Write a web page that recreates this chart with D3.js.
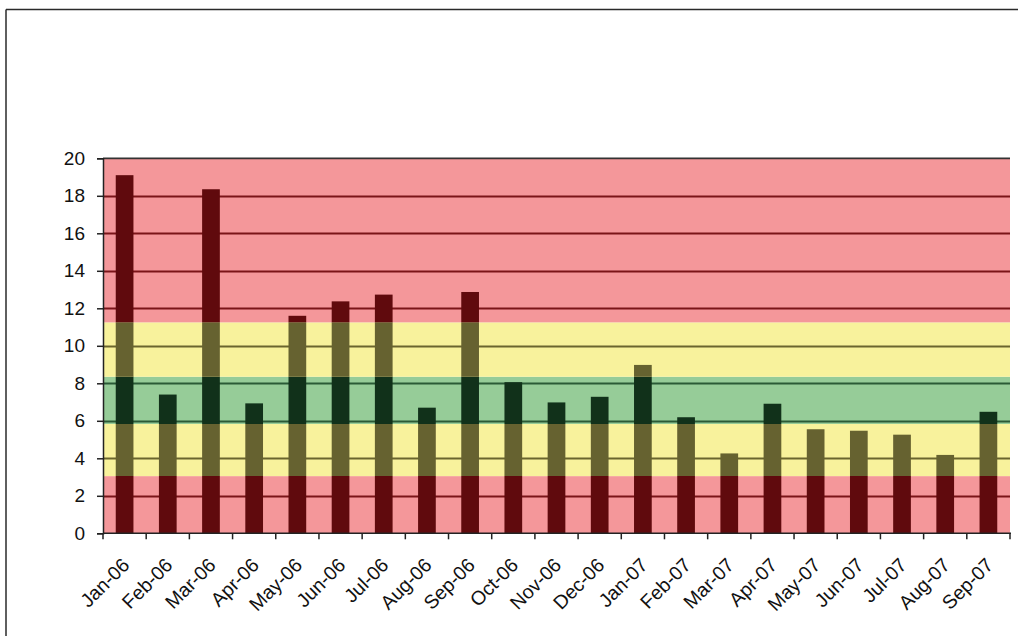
<!DOCTYPE html>
<html>
<head>
<meta charset="utf-8">
<script src="https://cdn.jsdelivr.net/npm/d3@7"></script>
<style>
  html, body { margin: 0; padding: 0; background: #fff; }
  svg { display: block; }
  text { font-family: "Liberation Sans", Arial, sans-serif; }
</style>
</head>
<body>
<svg id="chart" width="1018" height="636"></svg>
<script>
const categories = ["Jan-06","Feb-06","Mar-06","Apr-06","May-06","Jun-06","Jul-06","Aug-06","Sep-06","Oct-06","Nov-06","Dec-06","Jan-07","Feb-07","Mar-07","Apr-07","May-07","Jun-07","Jul-07","Aug-07","Sep-07"];
const values = [19.1, 7.4, 18.35, 6.93, 11.6, 12.37, 12.73, 6.7, 12.87, 8.06, 6.98, 7.28, 8.98, 6.19, 4.26, 6.91, 5.55, 5.47, 5.26, 4.18, 6.48];
const yTicks = [0, 2, 4, 6, 8, 10, 12, 14, 16, 18, 20];
const bandLower = [0, 3.05, 5.83, 8.35, 11.25];
const bandUpper = [3.05, 5.83, 8.35, 11.25, 20];
const bandKind = ["red", "yellow", "green", "yellow", "red"];

const palette = {
  red:    { light: "#f4979a", dark: "#600a0d", grid: "#7a1518" },
  yellow: { light: "#f8f29c", dark: "#666230", grid: "#6a652e" },
  green:  { light: "#96cc98", dark: "#11311a", grid: "#2a5a36" }
};

const svg = d3.select("#chart");
const plotLeft = 103, plotRight = 1010, plotTop = 158.3, plotBottom = 533.3;

const x = d3.scaleBand().domain(categories).range([plotLeft, plotRight]).paddingInner(0.59).paddingOuter(0.295);
const xTickScale = d3.scaleBand().domain(categories).range([plotLeft, plotRight]);
const y = d3.scaleLinear().domain([0, 20]).range([plotBottom, plotTop]);

// outer frame
svg.append("line").attr("x1", 6).attr("x2", 1018).attr("y1", 9.5).attr("y2", 9.5)
  .attr("stroke", "#2a2a2a").attr("stroke-width", 1.5);
svg.append("line").attr("x1", 6).attr("x2", 6).attr("y1", 9.5).attr("y2", 636)
  .attr("stroke", "#2a2a2a").attr("stroke-width", 1.5);

const defs = svg.append("defs");
const bands = bandLower.map((lo, i) => ({ lo, hi: bandUpper[i], kind: bandKind[i], i }));

bands.forEach(b => {
  defs.append("clipPath").attr("id", "clip" + b.i)
    .append("rect")
    .attr("x", plotLeft).attr("width", plotRight - plotLeft)
    .attr("y", y(b.hi)).attr("height", y(b.lo) - y(b.hi));
});

const plot = svg.append("g");
plot.selectAll("rect.band").data(bands).join("rect").attr("class", "band")
  .attr("x", plotLeft).attr("width", plotRight - plotLeft)
  .attr("y", d => y(d.hi)).attr("height", d => y(d.lo) - y(d.hi))
  .attr("fill", d => palette[d.kind].light);

const gridVals = yTicks.filter(t => t > 0 && t < 20);
bands.forEach(b => {
  const g = plot.append("g").attr("clip-path", `url(#clip${b.i})`);
  g.selectAll("line").data(gridVals).join("line")
    .attr("x1", plotLeft).attr("x2", plotRight)
    .attr("y1", d => Math.round(y(d)) + 0.5).attr("y2", d => Math.round(y(d)) + 0.5)
    .attr("stroke", palette[b.kind].grid).attr("stroke-width", 1.8);
  g.selectAll("rect").data(values).join("rect")
    .attr("x", (d, i) => x(categories[i]))
    .attr("width", x.bandwidth())
    .attr("y", d => y(d))
    .attr("height", d => y(0) - y(d))
    .attr("fill", palette[b.kind].dark);
});

// top border line of plot
svg.append("line").attr("x1", plotLeft).attr("x2", plotRight).attr("y1", plotTop).attr("y2", plotTop)
  .attr("stroke", "#333").attr("stroke-width", 1.8);

// Y axis
const yAxis = d3.axisLeft(y).tickValues(yTicks).tickSize(6).tickPadding(12).tickFormat(d3.format("d"));
const ya = svg.append("g").attr("transform", `translate(${plotLeft},0)`).call(yAxis);
ya.attr("font-size", null).attr("font-family", null);
ya.select(".domain").attr("stroke", "#222").attr("stroke-width", 1.5);
ya.selectAll(".tick line").attr("stroke", "#222").attr("stroke-width", 1.5);
ya.selectAll(".tick text").attr("font-size", "19px").attr("fill", "#111")
  .attr("font-family", "'Liberation Sans', Arial, sans-serif");

// X axis line and ticks at category boundaries
const xa = svg.append("g");
xa.append("line").attr("x1", plotLeft).attr("x2", plotRight + 1).attr("y1", plotBottom).attr("y2", plotBottom)
  .attr("stroke", "#222").attr("stroke-width", 1.5);
const boundaries = categories.map(c => xTickScale(c)).concat([plotRight]);
xa.selectAll("line.tk").data(boundaries).join("line").attr("class", "tk")
  .attr("x1", d => d).attr("x2", d => d).attr("y1", plotBottom).attr("y2", plotBottom + 6)
  .attr("stroke", "#222").attr("stroke-width", 1.5);
xa.selectAll("text").data(categories).join("text")
  .attr("transform", d => `translate(${x(d) + x.bandwidth() / 2 + 6},${plotBottom + 33}) rotate(-45)`)
  .attr("text-anchor", "end")
  .attr("font-size", "19.5px")
  .attr("fill", "#111")
  .text(d => d);
</script>
</body>
</html>
